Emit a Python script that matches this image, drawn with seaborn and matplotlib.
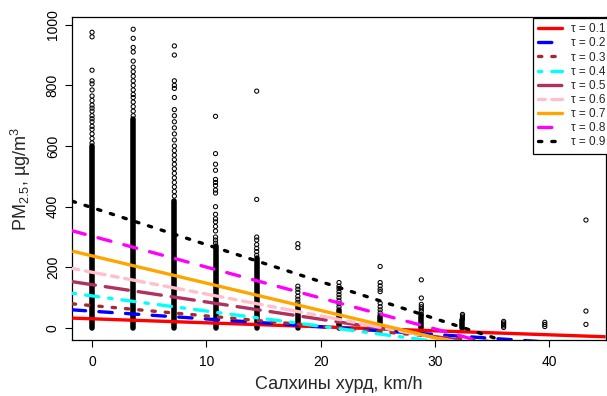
import numpy as np
import pandas as pd
import matplotlib
matplotlib.use("Agg")
import matplotlib.pyplot as plt
import seaborn as sns
from matplotlib.lines import Line2D

# ---------------- data ----------------
wind_speeds = [0, 3.6, 7.2, 10.8, 14.4, 18, 21.6, 25.2, 28.8, 32.4, 36, 39.6, 43.2]
# top of the solid, over-plotted band of observations in each column (0 = no band)
dense_top = [600, 690, 420, 270, 230, 75, 60, 40, 40, 25, 0, 0, 0]

pm_ws_0 = [610, 625, 640, 655, 665, 680, 690, 700, 715, 725, 735, 750, 765, 785, 805, 815, 850, 960, 975]
pm_ws_3_6 = [700, 715, 730, 745, 760, 770, 785, 800, 815, 830, 845, 860, 880, 910, 925, 955, 985]
pm_ws_7_2 = [435, 450, 465, 480, 495, 510, 525, 540, 555, 570, 585, 600, 620, 640, 660, 680, 700,
             720, 760, 790, 800, 815, 900, 930]
pm_ws_10_8 = [280, 290, 300, 320, 335, 350, 360, 375, 400, 445, 455, 470, 480, 490, 520, 540, 575, 698]
pm_ws_14_4 = [240, 252, 263, 275, 290, 300, 424, 781]
pm_ws_18 = [85, 95, 105, 118, 128, 138, 265, 278]
pm_ws_21_6 = [70, 80, 90, 100, 110, 120, 130, 138, 150]
pm_ws_25_2 = [50, 60, 70, 82, 120, 128, 139, 150, 203]
pm_ws_28_8 = [45, 55, 63, 70, 78, 99, 159]
pm_ws_32_4 = [30, 35, 40, 45]
pm_ws_36 = [2, 7, 12, 17, 22]
pm_ws_39_6 = [5, 12, 19]
pm_ws_43_2 = [12, 56, 356]
sparse_pm = [pm_ws_0, pm_ws_3_6, pm_ws_7_2, pm_ws_10_8, pm_ws_14_4, pm_ws_18, pm_ws_21_6,
             pm_ws_25_2, pm_ws_28_8, pm_ws_32_4, pm_ws_36, pm_ws_39_6, pm_ws_43_2]

# quantile regression fits  PM = intercept + slope * wind
taus = [0.1, 0.2, 0.3, 0.4, 0.5, 0.6, 0.7, 0.8, 0.9]
intercepts = [30.5, 55.6, 74, 106, 143, 184, 238, 303, 397]
slopes = [-1.32, -2.56, -3.4, -5.0, -5.7, -7.2, -9.0, -10.2, -12.2]
line_colors_hex = ["#FF0000", "#0000FF", "#A52A2A", "#00FFFF", "#B03060", "#FFC0CB",
                   "#FFA500", "#FF00FF", "#000000"]
# R lty 1..6 cycle
line_dashes = [None, (4, 4), (1, 3), (1, 3, 4, 3), (7, 3), (2, 2, 6, 2), None, (4, 4), (1, 3)]

x_label = "Салхины хурд, km/h"
y_label = r"PM$_{2.5}$, µg/m$^3$"
x_ticks = [0, 10, 20, 30, 40]
y_ticks = [0, 200, 400, 600, 800, 1000]

# ---------------- figure ----------------
sns.set_style("ticks")
plt.rcParams["font.family"] = ["Liberation Sans", "DejaVu Sans"]
plt.rcParams["mathtext.default"] = "regular"

W, H = 607, 396
fig = plt.figure(figsize=(W / 100, H / 100), dpi=100)
ax = fig.add_axes([72.3 / W, 1 - 340 / H, (605.7 - 72.3) / W, (340 - 17.3) / H])

pts = pd.DataFrame({
    "wind": np.concatenate([[w] * len(v) for w, v in zip(wind_speeds, sparse_pm)]),
    "pm": np.concatenate(sparse_pm),
})

# solid over-plotted bands
band = [(w, t) for w, t in zip(wind_speeds, dense_top) if t > 0]
vl = ax.vlines([b[0] for b in band], 0, [b[1] for b in band], colors="black",
               linewidth=4.0, zorder=2)
vl.set_capstyle("round")

sns.scatterplot(data=pts, x="wind", y="pm", ax=ax, marker="o", s=9,
                facecolor="none", edgecolor="black", linewidth=0.75, zorder=3, legend=False)

# axis limits like R (4 % expansion of data range)
xmin, xmax = min(wind_speeds), max(wind_speeds)
ymin, ymax = 0, 985
xr, yr = xmax - xmin, ymax - ymin
xlim = (xmin - 0.04 * xr, xmax + 0.04 * xr)
ylim = (ymin - 0.04 * yr, ymax + 0.04 * yr)

LW = 2.4
handles = []
for tau, b, m, col, dash in zip(taus, intercepts, slopes, line_colors_hex, line_dashes):
    df = pd.DataFrame({"x": list(xlim), "y": [b + m * xlim[0], b + m * xlim[1]]})
    sns.lineplot(data=df, x="x", y="y", ax=ax, color=col, linewidth=LW, zorder=4,
                 legend=False)
    ln = ax.get_lines()[-1]
    if dash is not None:
        ln.set_linestyle((0, dash))
    ln.set_dash_capstyle("round")
    ln.set_solid_capstyle("butt")
    h = Line2D([], [], color=col, linewidth=LW,
               linestyle=(0, dash) if dash is not None else "-")
    h.set_dash_capstyle("round")
    handles.append(h)

ax.set_xlim(*xlim)
ax.set_ylim(*ylim)
ax.set_xticks(x_ticks)
ax.set_yticks(y_ticks)
ax.set_xticklabels([str(t) for t in x_ticks])
ax.set_yticklabels([str(t) for t in y_ticks], rotation=90, va="center")
ax.tick_params(axis="both", direction="out", length=5, width=0.8, labelsize=10,
               colors="black")
ax.tick_params(axis="x", pad=6)
ax.tick_params(axis="y", pad=4)
for s in ax.spines.values():
    s.set_visible(True)
    s.set_color("black")
    s.set_linewidth(0.9)

ax.set_xlabel(x_label, fontsize=13, labelpad=5)
ax.set_ylabel(y_label, fontsize=13, labelpad=9)

leg = fig.legend(handles, [f"τ = {t}" for t in taus], loc="upper left",
                 bbox_to_anchor=(533 / W, 1 - 18 / H), bbox_transform=fig.transFigure,
                 fontsize=8.5, frameon=True, fancybox=False, framealpha=1,
                 borderaxespad=0, borderpad=0.45, labelspacing=0.18, handlelength=2.0,
                 handletextpad=0.8)
leg.get_frame().set_edgecolor("black")
leg.get_frame().set_linewidth(0.9)

fig.savefig("out.png", dpi=100)
